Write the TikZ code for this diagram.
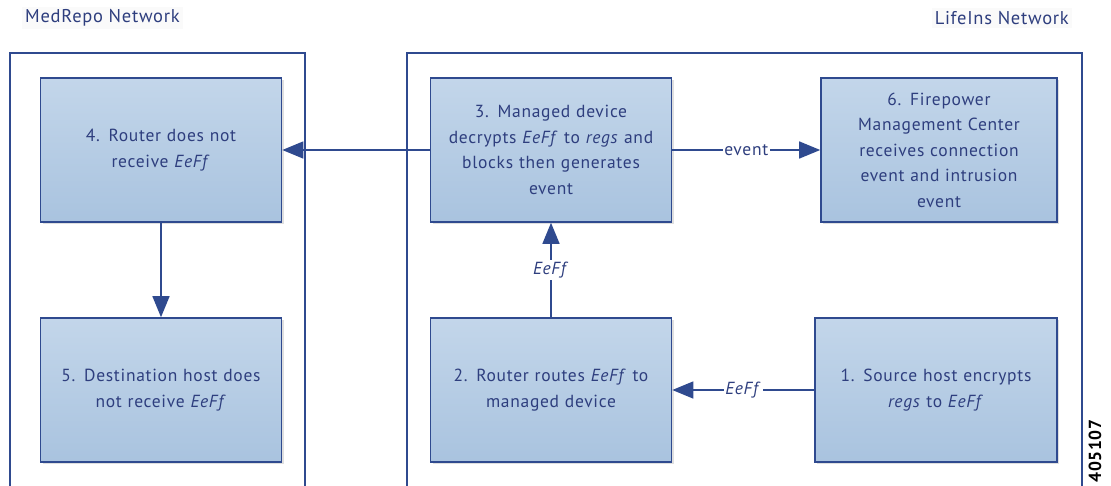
\documentclass[tikz,border=0pt]{standalone}
\usepackage{fontspec}
\setmainfont{PT Sans}[LetterSpace=4]
\usetikzlibrary{arrows.meta,shadows}
\definecolor{lineblue}{HTML}{2F4A8F}
\definecolor{textblue}{HTML}{2E3E7E}
\definecolor{filltop}{HTML}{C3D6EA}
\definecolor{fillbot}{HTML}{A9C3DF}
\tikzset{
  stepbox/.style={draw=lineblue, line width=1.6pt, top color=filltop, bottom color=fillbot,
    minimum width=241pt, minimum height=144pt, text width=232pt, align=center,
    text=textblue, font=\fontsize{17.5}{25.5}\selectfont,
    drop shadow={opacity=0.25, shadow xshift=2pt, shadow yshift=-2pt}},
  netline/.style={draw=lineblue, line width=1.6pt},
  conn/.style={draw=lineblue, line width=1.4pt, -{Triangle[length=21pt,width=17pt]}},
  connlabel/.style={fill=white, text=textblue, inner sep=1.5pt, font=\fontsize{17.5}{18}\selectfont},
  netlabel/.style={text=textblue, fill=gray!4, inner sep=3pt, font=\fontsize{18.5}{19}\selectfont}
}
\begin{document}
\begin{tikzpicture}[x=1pt,y=-1pt]
\useasboundingbox (0,0) rectangle (1111,485);
% network frames
\draw[netline] (10,490) -- (10,53) -- (305,53) -- (305,490);
\draw[netline] (407,490) -- (407,53) -- (1082,53) -- (1082,490);
\node[netlabel, anchor=west] (medrepo) at (22,18) {MedRepo Network};
\node[netlabel, anchor=east] (lifeins) at (1072,18) {LifeIns Network};
% step boxes
\node[stepbox] (b4) at (161,150) {4. Router does not\\ receive \textit{EeFf}};
\node[stepbox] (b5) at (161,390) {5. Destination host does\\ not receive \textit{EeFf}};
\node[stepbox] (b3) at (551,150) {3. Managed device\\ decrypts \textit{EeFf} to \textit{regs} and\\ blocks then generates\\ event};
\node[stepbox, minimum width=236pt, text width=226pt] (b6) at (939,150) {6. Firepower\\ Management Center\\ receives connection\\ event and intrusion\\ event};
\node[stepbox] (b2) at (551,390) {2. Router routes \textit{EeFf} to\\ managed device};
\node[stepbox, minimum width=242pt] (b1) at (936,390) {1. Source host encrypts\\ \textit{regs} to \textit{EeFf}};
% connectors
\draw[conn] (b3.west) -- (b4.east);
\draw[conn] (b4.south) -- (b5.north);
\draw[conn] (b3.east) -- node[connlabel] {event} (b6.west);
\draw[conn] (b2.north) -- node[connlabel] {\textit{EeFf}} (b3.south);
\draw[conn] (b1.west) -- node[connlabel] {\textit{EeFf}} (b2.east);
% figure number
\node[rotate=90, font=\fontsize{17.5}{18}\selectfont\bfseries, inner sep=0pt] (fignum) at (1095,451) {405107};
\end{tikzpicture}
\end{document}
